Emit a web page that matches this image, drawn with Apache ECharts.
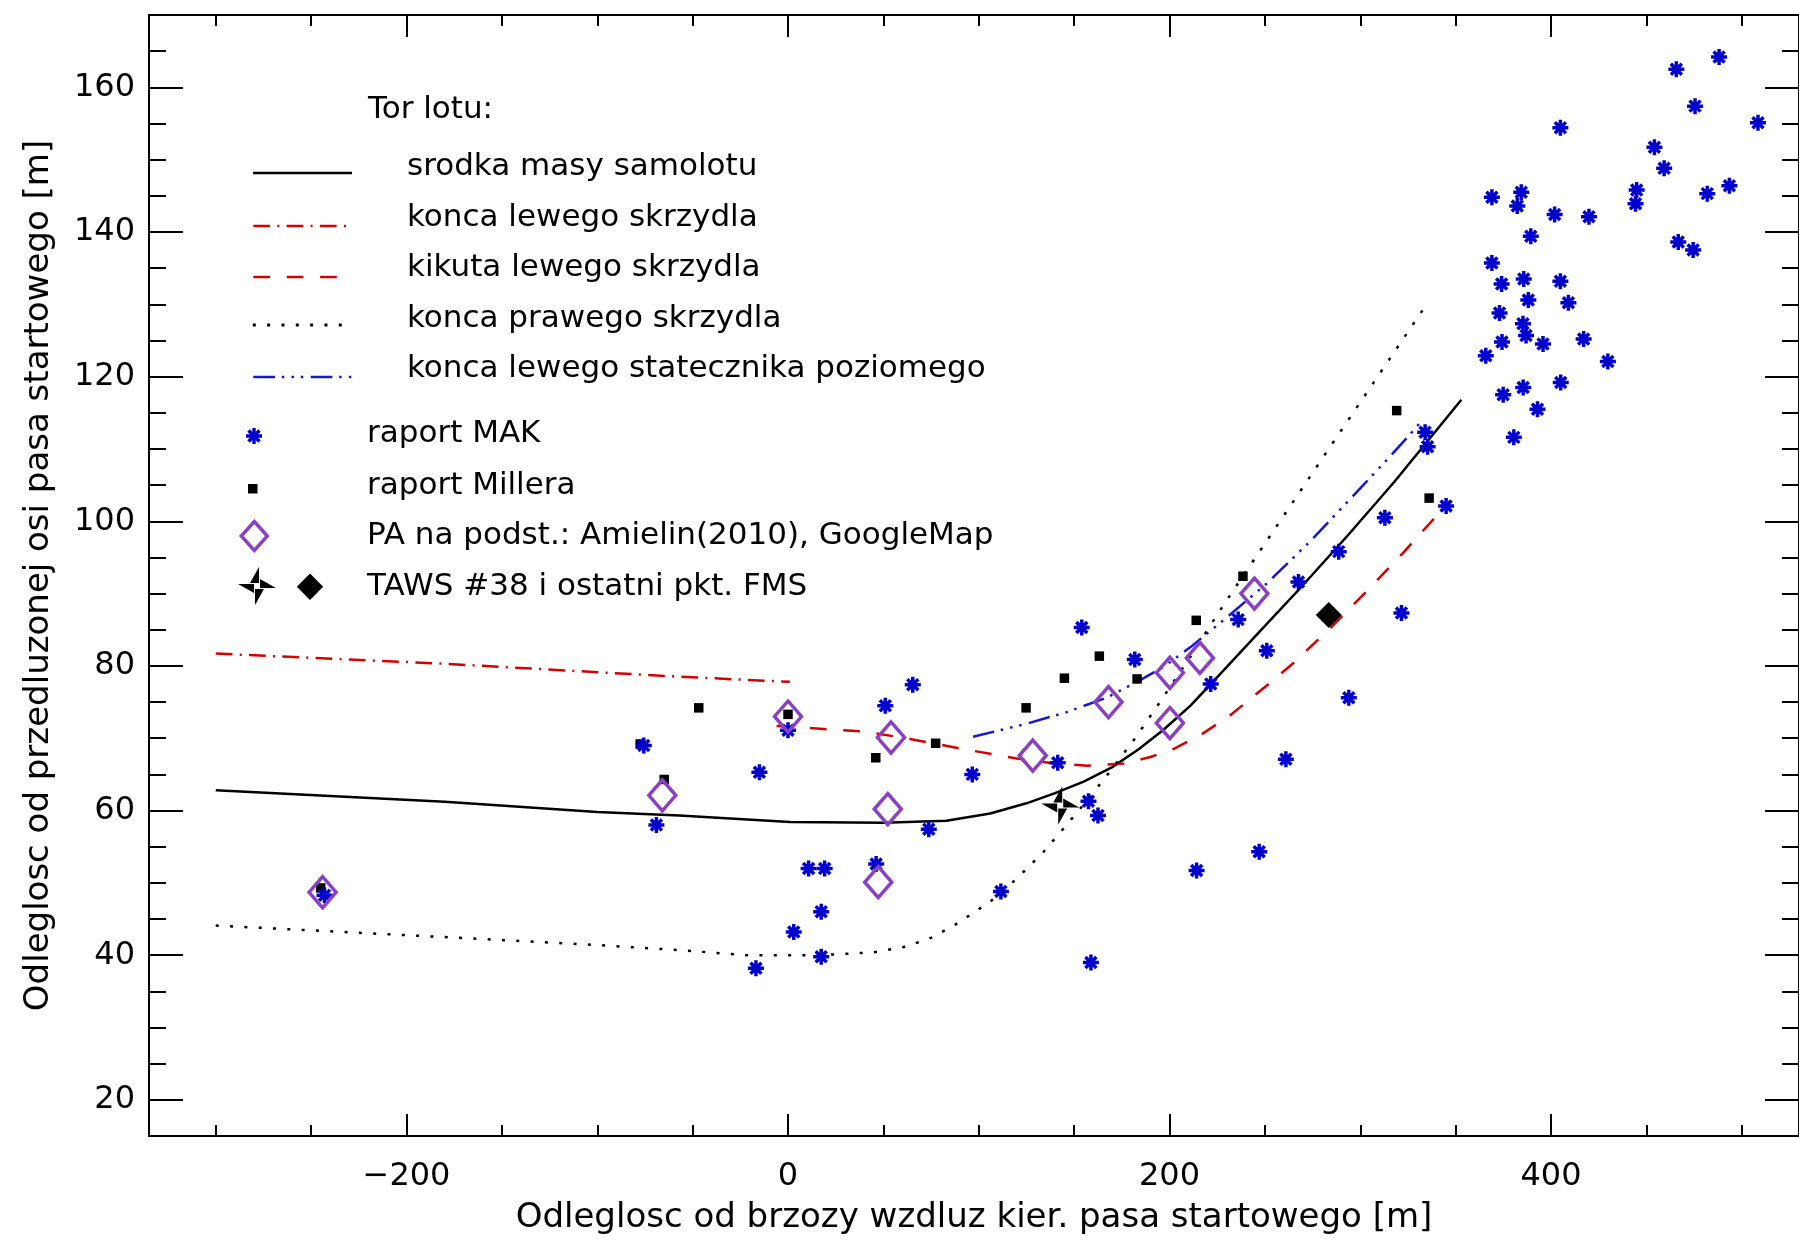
<!DOCTYPE html>
<html>
<head>
<meta charset="utf-8">
<script src="https://cdn.jsdelivr.net/npm/echarts/dist/echarts.min.js"></script>
<style>html,body{margin:0;padding:0;background:#fff;}#c{width:1799px;height:1241px;}</style>
</head>
<body>
<div id="c"></div>
<script>
// ---- axis ticks ----
const xMajor = [-200, 0, 200, 400];
const xMinor = [-300, -250, -150, -100, -50, 50, 100, 150, 250, 300, 350, 450, 500];
const yMajor = [20, 40, 60, 80, 100, 120, 140, 160];
const yMinor = [25, 30, 35, 45, 50, 55, 65, 70, 75, 85, 90, 95, 105, 110, 115, 125, 130, 135, 145, 150, 155, 165];

// ---- flight paths ----
const srodkaMasy = [[-300,62.8],[-180,61.2],[-100,59.8],[-57,59.3],[1,58.4],[50,58.3],[83,58.6],[106,59.6],[125,61.0],[140,62.4],[155,64.0],[170,66.0],[184,68.5],[197,71.2],[211,74.5],[227,79.0],[251,85.8],[268,90.6],[294,98.2],[318,105.5],[353,116.8]];
const koncaLewego = [[-300,81.7],[-180,80.3],[-57,78.5],[1,77.8]];
const kikutaLewego = [[-6,71.7],[41,70.9],[64,69.9],[92,68.5],[120,67.2],[140,66.5],[157,66.2],[176,66.5],[190,67.4],[202,68.5],[216,70.4],[232,73.2],[251,77.3],[265,80.4],[285,85.4],[304,90.5],[322,95.5],[347,102.8]];
const koncaPrawego = [[-300,44.1],[-180,42.5],[-100,41.4],[-57,40.7],[-22,40.0],[17,40.0],[45,40.4],[62,41.2],[75,42.4],[87,44.1],[106,47.4],[120,50.6],[134,54.3],[146,58.0],[158,61.8],[170,65.8],[182,70.0],[195,75.0],[211,81.3],[228,88.3],[240,93.0],[286,111.0],[334,129.7]];
const statecznik = [[97,70.2],[125,72.0],[146,73.6],[167,75.6],[183,77.8],[197,79.9],[211,82.6],[230,86.7],[251,91.4],[274,97.3],[298,104.0],[314,108.5],[325,111.7],[331,113.5]];

// ---- points ----
const raportMAK = [[-243,48.3],[-75.6,69.0],[-69,58.0],[-15,65.3],[-16.8,38.2],[0,71.1],[3,43.2],[10.8,52.0],[19.2,52.0],[17.4,46.0],[17.4,39.8],[46.2,52.6],[51,74.5],[65.4,77.4],[73.8,57.4],[96.6,65.0],[111.6,48.8],[154,85.3],[141.4,66.6],[157.5,61.3],[162.5,59.3],[158.8,39.0],[181.8,80.9],[214.2,51.7],[221.6,77.5],[236,86.4],[251,82.1],[247,54.3],[267.6,91.6],[261,67.1],[288.7,95.8],[294,75.6],[312.9,100.5],[321.6,87.3],[334,112.3],[335.3,110.3],[345,102.1],
  [488.1,164.2],[465.7,162.5],[475.5,157.4],[508.5,155.1],[404.9,154.4],[454.2,151.7],[459.3,148.8],[444.9,145.8],[444.3,143.9],[481.9,145.3],[493.5,146.4],[369,144.8],[384.4,145.5],[382.3,143.6],[401.9,142.4],[419.9,142.1],[389.4,139.4],[466.7,138.6],[474.5,137.5],[369,135.7],[374.1,132.8],[385.7,133.5],[404.9,133.2],[388.1,130.6],[409.1,130.2],[373,128.8],[385.3,127.3],[386.9,125.7],[374.3,124.8],[395.8,124.5],[417.1,125.2],[365.8,122.9],[429.8,122.1],[374.9,117.5],[385.4,118.5],[405.1,119.2],[392.9,115.5],[380.5,111.6]];
const raportMillera = [[-245,49.3],[-77.5,69.2],[-64.9,64.3],[-46.8,74.2],[0,73.3],[46,67.3],[77.4,69.3],[124.8,74.2],[144.9,78.3],[163.2,81.35],[183,78.2],[214,86.3],[238.5,92.4],[319.1,115.3],[336.1,103.2]];
const paAmielin = [[-244,48.7],[-65.9,62.1],[0,73.0],[54,70.1],[52.3,60.2],[47.3,50.1],[128.3,67.6],[168,75.0],[200.2,79.05],[200.2,72.1],[215.9,81.1],[244.5,90.0]];
const taws38 = [[142.7,60.7]];
const ostatniFMS = [[283.5,87.05]];

const legendTexts = ['Tor lotu:', 'srodka masy samolotu', 'konca lewego skrzydla', 'kikuta lewego skrzydla', 'konca prawego skrzydla', 'konca lewego statecznika poziomego', 'raport MAK', 'raport Millera', 'PA na podst.: Amielin(2010), GoogleMap', 'TAWS #38 i ostatni pkt. FMS'];

const FONT = '"DejaVu Sans", sans-serif';
const RED = '#d40000', BLUE = '#1616d4', STARBLUE = '#0000cc', PURPLE = '#8a3fc4';
const ASTER = 'M8,0L8,16M0,8L16,8M2.5,2.5L13.5,13.5M2.5,13.5L13.5,2.5';
const PINWHEEL = 'M22,1L22,17L13,17ZM39,22L23,22L23,13ZM18,39L18,23L27,23ZM1,18L17,18L17,27Z';
const XMIN = -335, XMAX = 530, YMIN = 15, YMAX = 170;

function fmt(v) { return v < 0 ? '\u2212' + (-v) : String(v); }

function xAx(pos, ticks, len, labels, name) {
  const a = {
    type: 'value', position: pos, min: XMIN, max: XMAX, gridIndex: 0,
    splitLine: { show: false },
    axisLine: { show: true, onZero: false, lineStyle: { color: '#000', width: 2 } },
    axisTick: { show: true, inside: true, length: len, customValues: ticks, lineStyle: { color: '#000', width: 2 } },
    axisLabel: labels ? { show: true, customValues: labels, formatter: fmt, margin: 25, color: '#000', fontSize: 32, fontFamily: FONT } : { show: false }
  };
  if (name) {
    a.name = name; a.nameLocation = 'middle'; a.nameGap = 65;
    a.nameTextStyle = { color: '#000', fontSize: 34, fontFamily: FONT };
  }
  return a;
}
function yAx(pos, ticks, len, labels, name) {
  const a = {
    type: 'value', position: pos, min: YMIN, max: YMAX, gridIndex: 0,
    splitLine: { show: false },
    axisLine: { show: true, onZero: false, lineStyle: { color: '#000', width: 2 } },
    axisTick: { show: true, inside: true, length: len, customValues: ticks, lineStyle: { color: '#000', width: 2 } },
    axisLabel: labels ? { show: true, customValues: labels, margin: 14, color: '#000', fontSize: 32, fontFamily: FONT } : { show: false }
  };
  if (name) {
    a.name = name; a.nameLocation = 'middle'; a.nameGap = 93; a.nameRotate = 90;
    a.nameTextStyle = { color: '#000', fontSize: 34, fontFamily: FONT };
  }
  return a;
}

function lineSeries(data, color, dash, width) {
  return { type: 'line', data: data, showSymbol: false, symbol: 'none', smooth: false, silent: true,
    lineStyle: { color: color, width: width, type: dash, cap: 'butt', join: 'round', opacity: 1 }, z: 2 };
}

// legend graphics
const LF = '31px ' + FONT;
function txt(s, x, y) { return { type: 'text', x: x, y: y, silent: true, style: { text: s, font: LF, fill: '#000', verticalAlign: 'middle', textVerticalAlign: 'middle' } }; }
function seg(x1, y1, x2, y2, color, dash, w) { return { type: 'line', silent: true, shape: { x1: x1, y1: y1, x2: x2, y2: y2 }, style: { stroke: color, lineWidth: w, lineDash: dash, lineCap: 'butt' } }; }
function poly(pts, fill, stroke, w) { return { type: 'polygon', silent: true, shape: { points: pts }, style: { fill: fill, stroke: stroke, lineWidth: w } }; }

const graphics = [
  txt(legendTexts[0], 368, 110),
  seg(253, 173, 352, 173, '#000', null, 2.5), txt(legendTexts[1], 407, 167),
  seg(253.3, 226, 346.5, 226, RED, [16.7, 7.3, 2, 7.3], 2.5), txt(legendTexts[2], 407, 218),
  seg(253.3, 277, 337, 277, RED, [16.7, 16.7], 2.5), txt(legendTexts[3], 407, 268),
  seg(252.8, 325, 342, 325, '#000', [3, 11.33], 3), txt(legendTexts[4], 407, 319),
  seg(253.3, 377, 351.3, 377, BLUE, [21.7, 6.75, 2.5, 7.2, 2.5, 6.8, 2.5, 7.45], 2.5), txt(legendTexts[5], 407, 369),
  seg(254, 428, 254, 444, STARBLUE, null, 3.5),
  seg(246, 436, 262, 436, STARBLUE, null, 3.5),
  seg(248.5, 430.5, 259.5, 441.5, STARBLUE, null, 3.5),
  seg(248.5, 441.5, 259.5, 430.5, STARBLUE, null, 3.5),
  txt(legendTexts[6], 367, 434),
  { type: 'rect', silent: true, shape: { x: 248, y: 484, width: 9.5, height: 9.5 }, style: { fill: '#000' } },
  txt(legendTexts[7], 367, 486),
  poly([[254.3, 521.5], [267.3, 536], [254.3, 550.5], [241.3, 536]], null, PURPLE, 3.5),
  txt(legendTexts[8], 367, 536),
  poly([[259, 567], [259, 583], [250, 583]], '#000', null, 0),
  poly([[276, 588], [260, 588], [260, 579]], '#000', null, 0),
  poly([[255, 605], [255, 589], [264, 589]], '#000', null, 0),
  poly([[238, 584], [254, 584], [254, 593]], '#000', null, 0),
  poly([[310, 573.5], [323.2, 586.7], [310, 600], [296.8, 586.7]], '#000', null, 0),
  txt(legendTexts[9], 367, 587)
];

const chart = echarts.init(document.getElementById('c'), null, { renderer: 'canvas' });
chart.setOption({
  backgroundColor: '#fff',
  animation: false,
  grid: { left: 149, top: 15, width: 1654, height: 1121, containLabel: false },
  xAxis: [
    xAx('bottom', xMajor, 22, xMajor, 'Odleglosc od brzozy wzdluz kier. pasa startowego [m]'),
    xAx('bottom', xMinor, 11, null),
    xAx('top', xMajor, 22, null),
    xAx('top', xMinor, 11, null)
  ],
  yAxis: [
    yAx('left', yMajor, 34, yMajor, 'Odleglosc od przedluzonej osi pasa startowego [m]'),
    yAx('left', yMinor, 17, null),
    yAx('right', yMajor, 34, null),
    yAx('right', yMinor, 17, null)
  ],
  series: [
    lineSeries(srodkaMasy, '#000', 'solid', 2.5),
    lineSeries(koncaLewego, RED, [16.7, 7.3, 2, 7.3], 2.5),
    lineSeries(kikutaLewego, RED, [16.7, 16.7], 2.5),
    lineSeries(koncaPrawego, '#000', [3, 11.33], 2.5),
    lineSeries(statecznik, BLUE, [21.7, 6.75, 2.5, 7.2, 2.5, 6.8, 2.5, 7.45], 2.5),
    { type: 'scatter', data: raportMillera, symbol: 'rect', symbolSize: 9.5, itemStyle: { color: '#000', opacity: 1 }, silent: true, z: 3 },
    { type: 'scatter', data: raportMAK, symbol: 'path://' + ASTER, symbolSize: 16, symbolKeepAspect: true,
      itemStyle: { color: 'rgba(0,0,0,0)', borderColor: STARBLUE, borderWidth: 3.5, opacity: 1 }, silent: true, z: 4 },
    { type: 'scatter', data: paAmielin, symbol: 'diamond', symbolSize: [27, 31],
      itemStyle: { color: 'rgba(0,0,0,0)', borderColor: PURPLE, borderWidth: 3.5, opacity: 1 }, silent: true, z: 5 },
    { type: 'scatter', data: taws38, symbol: 'path://' + PINWHEEL, symbolSize: 38, itemStyle: { color: '#000', opacity: 1 }, silent: true, z: 6 },
    { type: 'scatter', data: ostatniFMS, symbol: 'diamond', symbolSize: [26, 26], itemStyle: { color: '#000', opacity: 1 }, silent: true, z: 6 }
  ],
  graphic: graphics
});
</script>
</body>
</html>
